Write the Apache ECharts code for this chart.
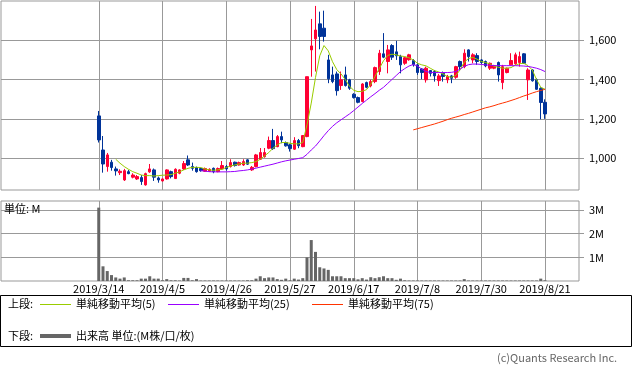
<!doctype html>
<html>
<head>
<meta charset="utf-8">
<title>株価チャート</title>
<script src="https://cdn.jsdelivr.net/npm/echarts@6/dist/echarts.min.js"></script>
</head>
<body style="margin:0;padding:0;background:#fff">
<div id="chart" style="width:633px;height:378px;"></div>
<script>
// 営業日（2019年）
var dates = ['3/14','3/15','3/18','3/19','3/20','3/22','3/25','3/26','3/27','3/28','3/29',
  '4/1','4/2','4/3','4/4','4/5','4/8','4/9','4/10','4/11','4/12','4/15','4/16','4/17','4/18','4/19','4/22','4/23','4/24','4/25','4/26',
  '5/7','5/8','5/9','5/10','5/13','5/14','5/15','5/16','5/17','5/20','5/21','5/22','5/23','5/24','5/27','5/28','5/29','5/30','5/31',
  '6/3','6/4','6/5','6/6','6/7','6/10','6/11','6/12','6/13','6/14','6/17','6/18','6/19','6/20','6/21','6/24','6/25','6/26','6/27','6/28',
  '7/1','7/2','7/3','7/4','7/5','7/8','7/9','7/10','7/11','7/12','7/16','7/17','7/18','7/19','7/22','7/23','7/24','7/25','7/26','7/29','7/30','7/31',
  '8/1','8/2','8/5','8/6','8/7','8/8','8/9','8/13','8/14','8/15','8/16','8/19','8/20','8/21'];

// 四本値
var opens = [1215,1042,958,980,946,927,890,932,904,895,
  902,865,931,941,900,885,895,932,897,924,
  946,992,958,953,948,934,934,949,932,946,
  958,958,980,966,966,992,941,958,995,1008,
  1051,1090,1059,1110,1080,1068,1046,1090,1059,1110,
  1550,1606,1682,1660,1499,1423,1428,1369,1423,1398,
  1325,1308,1288,1384,1367,1389,1440,1530,1491,1572,
  1540,1516,1482,1500,1496,1474,1453,1398,1445,1440,
  1394,1431,1398,1418,1411,1491,1465,1550,1499,1521,
  1499,1491,1457,1457,1486,1384,1435,1474,1479,1486,
  1530,1398,1448,1398,1355,1284];
var closes = [1093,971,1017,953,936,934,937,922,915,907,
  882,922,946,904,890,895,941,907,944,941,
  973,966,949,932,937,948,944,932,948,963,
  946,978,963,978,983,970,954,1017,1029,1029,
  1090,1049,1110,1093,1063,1049,1090,1064,1115,1414,
  1570,1651,1618,1618,1403,1389,1343,1398,1369,1355,
  1308,1284,1377,1360,1389,1460,1533,1513,1550,1513,
  1520,1474,1510,1525,1474,1435,1435,1457,1431,1418,
  1418,1415,1415,1406,1465,1465,1533,1516,1525,1491,
  1486,1469,1482,1470,1423,1465,1457,1496,1525,1516,
  1482,1448,1393,1350,1283,1225];
var lows = [1080,927,932,937,912,915,885,919,898,890,
  865,861,926,885,876,882,892,898,895,919,
  941,961,937,927,932,931,931,924,929,941,
  937,953,958,963,961,966,936,954,992,1003,
  1046,1042,1056,1076,1059,1034,1042,1051,1056,1107,
  1414,1440,1553,1592,1381,1381,1318,1347,1364,1347,
  1303,1279,1284,1355,1360,1381,1423,1508,1431,1499,
  1499,1431,1474,1495,1465,1423,1401,1384,1415,1389,
  1367,1389,1381,1381,1403,1445,1457,1491,1482,1474,
  1479,1462,1448,1452,1389,1350,1431,1470,1474,1465,
  1479,1296,1389,1347,1198,1200];
var highs = [1240,1113,1027,992,958,944,946,941,924,915,
  915,927,971,948,907,898,944,937,949,944,
  986,1014,978,958,953,953,949,953,953,986,
  966,995,983,983,995,995,961,1022,1052,1052,
  1110,1149,1118,1135,1085,1073,1107,1098,1118,1414,
  1707,1773,1744,1749,1525,1465,1440,1440,1465,1403,
  1330,1313,1381,1389,1398,1465,1550,1635,1575,1579,
  1596,1525,1515,1530,1503,1482,1457,1465,1448,1448,
  1428,1440,1423,1423,1469,1496,1553,1553,1533,1533,
  1503,1496,1486,1474,1491,1474,1460,1533,1536,1541,
  1533,1457,1452,1406,1360,1299];

// 出来高（M株）
var volumes = [3.10,0.62,0.42,0.25,0.15,0.10,0.15,0.03,0.03,0.03,
  0.10,0.10,0.20,0.10,0.10,0.03,0.08,0.03,0.03,0.02,
  0.13,0.13,0.03,0.08,0.02,0.02,0.02,0.02,0.02,0.02,
  0.02,0.02,0.02,0.02,0.02,0.03,0.03,0.10,0.20,0.12,
  0.15,0.15,0.08,0.05,0.10,0.03,0.10,0.06,0.12,1.00,
  1.73,1.23,0.58,0.53,0.47,0.20,0.20,0.20,0.12,0.12,
  0.12,0.07,0.12,0.06,0.16,0.12,0.16,0.20,0.12,0.12,
  0.05,0.10,0.03,0.02,0.02,0.02,0.02,0.02,0.02,0.02,
  0.02,0.02,0.02,0.02,0.02,0.02,0.08,0.02,0.02,0.02,
  0.02,0.02,0.02,0.02,0.02,0.02,0.02,0.02,0.02,0.02,
  0.02,0.02,0.02,0.02,0.10,0.03];

// 単純移動平均
var sma5 = [null,null,null,null,
  995,975,958,944,932,924,915,912,912,910,
  912,914,915,917,924,931,941,949,954,954,
  953,946,941,939,941,944,953,961,966,971,
  975,975,978,983,995,1012,1029,1051,1068,1080,
  1080,1076,1073,1073,1080,1170,1280,1410,1520,1572,
  1545,1490,1450,1428,1400,1365,1345,1338,1340,1348,
  1375,1415,1455,1495,1522,1528,1525,1519,1516,1510,
  1499,1482,1474,1469,1457,1445,1438,1428,1415,1411,
  1420,1448,1488,1506,1512,1503,1491,1486,1479,1467,
  1462,1457,1457,1460,1472,1480,1482,1470,1448,1400,
  1360,1350];
var sma25 = [null,null,null,null,null,null,null,null,null,null,
  null,null,null,null,null,null,null,null,null,null,
  null,null,null,null,
  937,935,932,931,931,931,931,932,933,936,
  938,941,945,950,955,960,965,970,976,982,
  987,991,995,999,1003,1020,1042,1062,1088,1115,
  1140,1162,1180,1195,1210,1225,1242,1260,1278,1295,
  1312,1328,1345,1360,1380,1400,1420,1440,1455,1468,
  1476,1468,1452,1440,1436,1435,1435,1435,1435,1436,
  1440,1452,1466,1475,1478,1478,1476,1474,1472,1470,
  1470,1470,1470,1470,1470,1469,1468,1466,1462,1457,
  1450,1440];
var sma75 = [];
for (var k = 0; k < 74; k++) sma75.push(null);
sma75 = sma75.concat([1144,1150,1156,1162,1168,1174,1181,1188,1196,1203,
  1209,1215,1222,1228,1235,1242,1249,1256,1261,1267,
  1274,1280,1286,1293,1300,1308,1316,1323,1331,1338,
  1344,1350]);

var priceTicks = [1000, 1200, 1400, 1600];
var volTicks = [1, 2, 3];

// 左右の空き（営業日数）
var padLeft = 23, padRight = 8;
var cats = [];
for (var a = 0; a < padLeft; a++) cats.push('l' + a);
dates.forEach(function (d) { cats.push('2019/' + d); });
for (var b = 0; b < padRight; b++) cats.push('r' + b);

function pad(arr) {
  var out = [];
  for (var a = 0; a < padLeft; a++) out.push('-');
  arr.forEach(function (v) { out.push(v == null ? '-' : v); });
  for (var b = 0; b < padRight; b++) out.push('-');
  return out;
}
var candles = dates.map(function (d, i) { return [opens[i], closes[i], lows[i], highs[i]]; });

function showTick(idx) {
  return idx >= padLeft && idx < padLeft + dates.length && (idx - padLeft) % 15 === 0;
}

var font = '"Noto Sans CJK JP", "Noto Sans", sans-serif';
var gridColor = '#999';

var chart = echarts.init(document.getElementById('chart'), null, {renderer: 'canvas'});
chart.setOption({
  animation: false,
  backgroundColor: '#fff',
  textStyle: {fontFamily: font},
  grid: [
    {left: 1, top: 1, width: 578, height: 189, show: true, borderColor: gridColor, borderWidth: 1},
    {left: 1, top: 201, width: 578, height: 80, show: true, borderColor: gridColor, borderWidth: 1}
  ],
  xAxis: [
    {type: 'category', gridIndex: 0, data: cats, boundaryGap: false,
      axisLine: {show: false}, axisTick: {show: false}, axisLabel: {show: false},
      splitLine: {show: true, interval: showTick, lineStyle: {color: gridColor}}},
    {type: 'category', gridIndex: 1, data: cats, boundaryGap: false,
      axisLine: {show: false}, axisTick: {show: false},
      axisLabel: {interval: showTick, fontSize: 11, color: '#000', margin: 2, fontFamily: font},
      splitLine: {show: true, interval: showTick, lineStyle: {color: gridColor}}}
  ],
  yAxis: [
    {type: 'value', gridIndex: 0, position: 'right', min: 839, max: 1798, scale: true,
      axisLine: {show: false},
      axisTick: {show: true, length: 5, customValues: priceTicks, lineStyle: {color: gridColor}},
      axisLabel: {customValues: priceTicks, margin: 10, fontSize: 11, color: '#000', fontFamily: font,
        formatter: function (v) { return echarts.format.addCommas(v); }},
      splitLine: {show: true, lineStyle: {color: gridColor}}},
    {type: 'value', gridIndex: 1, position: 'right', min: 0, max: 3.38,
      axisLine: {show: false},
      axisTick: {show: true, length: 5, customValues: volTicks, lineStyle: {color: gridColor}},
      axisLabel: {customValues: volTicks, margin: 10, fontSize: 11, color: '#000', fontFamily: font,
        formatter: function (v) { return v + 'M'; }},
      splitLine: {show: true, lineStyle: {color: gridColor}}}
  ],
  series: [
    {name: '株価', type: 'candlestick', xAxisIndex: 0, yAxisIndex: 0, data: pad(candles), barWidth: 3,
      itemStyle: {color: '#ff0033', color0: '#003399', borderColor: '#ff0033', borderColor0: '#003399', borderWidth: 1}},
    {name: '単純移動平均(5)', type: 'line', xAxisIndex: 0, yAxisIndex: 0, data: pad(sma5),
      showSymbol: false, symbol: 'none', lineStyle: {color: '#99cc00', width: 1}},
    {name: '単純移動平均(25)', type: 'line', xAxisIndex: 0, yAxisIndex: 0, data: pad(sma25),
      showSymbol: false, symbol: 'none', lineStyle: {color: '#9900ff', width: 1}},
    {name: '単純移動平均(75)', type: 'line', xAxisIndex: 0, yAxisIndex: 0, data: pad(sma75),
      showSymbol: false, symbol: 'none', lineStyle: {color: '#ff3300', width: 1}},
    {name: '出来高', type: 'bar', xAxisIndex: 1, yAxisIndex: 1, data: pad(volumes), barWidth: 3,
      itemStyle: {color: '#666'}}
  ],
  graphic: [
    {type: 'text', x: 4, y: 209, z: 100, style: {text: '単位: M', font: '11px ' + font, fill: '#000', verticalAlign: 'middle'}},
    {type: 'rect', shape: {x: 0.5, y: 295.5, width: 631, height: 51}, style: {fill: 'none', stroke: '#000', lineWidth: 1}},
    {type: 'text', x: 8, y: 304, style: {text: '上段:', font: '11px ' + font, fill: '#000', verticalAlign: 'middle'}},
    {type: 'line', shape: {x1: 40, y1: 304.5, x2: 71, y2: 304.5}, style: {stroke: '#99cc00', lineWidth: 1}},
    {type: 'text', x: 76, y: 304, style: {text: '単純移動平均(5)', font: '11px ' + font, fill: '#000', verticalAlign: 'middle'}},
    {type: 'line', shape: {x1: 168, y1: 304.5, x2: 199, y2: 304.5}, style: {stroke: '#9900ff', lineWidth: 1}},
    {type: 'text', x: 204, y: 304, style: {text: '単純移動平均(25)', font: '11px ' + font, fill: '#000', verticalAlign: 'middle'}},
    {type: 'line', shape: {x1: 312, y1: 304.5, x2: 343, y2: 304.5}, style: {stroke: '#ff3300', lineWidth: 1}},
    {type: 'text', x: 348, y: 304, style: {text: '単純移動平均(75)', font: '11px ' + font, fill: '#000', verticalAlign: 'middle'}},
    {type: 'text', x: 8, y: 336, style: {text: '下段:', font: '11px ' + font, fill: '#000', verticalAlign: 'middle'}},
    {type: 'line', shape: {x1: 40, y1: 336, x2: 71, y2: 336}, style: {stroke: '#666', lineWidth: 4}},
    {type: 'text', x: 76, y: 336, style: {text: '出来高 単位:(M株/口/枚)', font: '11px ' + font, fill: '#000', verticalAlign: 'middle'}},
    {type: 'text', x: 497, y: 358, style: {text: '(c)Quants Research Inc.', font: '11px ' + font, fill: '#666', verticalAlign: 'middle'}}
  ]
});
</script>
</body>
</html>
